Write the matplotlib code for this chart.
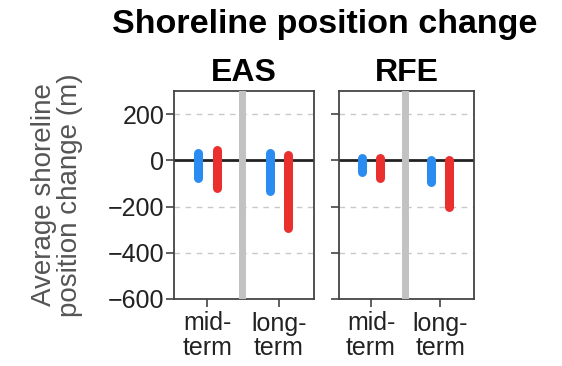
import numpy as np
import matplotlib.pyplot as plt

plt.rcParams['font.family'] = ['Liberation Sans', 'DejaVu Sans']

# data (m)
categories = ['mid-\nterm', 'long-\nterm']
panels = ['EAS', 'RFE']
eas_blue_hi = [33, 33]
eas_blue_lo = [-76, -131]
eas_red_hi = [46, 24]
eas_red_lo = [-118, -291]
rfe_blue_hi = [8, 2]
rfe_blue_lo = [-50, -93]
rfe_red_hi = [12, 1]
rfe_red_lo = [-76, -200]

yticks = [200, 0, -200, -400, -600]
blue = '#2a8cf0'
red = '#ea2f2f'

W, H = 562, 366
fig = plt.figure(figsize=(W / 100, H / 100), dpi=100)

def px_axes(left, top, right, bottom):
    return fig.add_axes([left / W, 1 - bottom / H, (right - left) / W, (bottom - top) / H])

ax_eas = px_axes(174, 91, 314, 299)
ax_rfe = px_axes(339, 91, 474, 299)

data = {
    'EAS': (eas_blue_lo, eas_blue_hi, eas_red_lo, eas_red_hi),
    'RFE': (rfe_blue_lo, rfe_blue_hi, rfe_red_lo, rfe_red_hi),
}
centers = np.array([0.95, 3.0])
off = 0.27

for ax, name in zip([ax_eas, ax_rfe], panels):
    b_lo, b_hi, r_lo, r_hi = data[name]
    ax.set_xlim(0, 4)
    ax.set_ylim(-600, 300)
    for g in [200, -200, -400]:
        ax.axhline(g, color='#c8c8c8', lw=1, ls=(0, (4, 4)), zorder=1)
    ax.axhline(0, color='#222222', lw=2, zorder=2)
    ax.axvline(1.95, color='#c2c2c2', lw=5, zorder=3)
    for i, c in enumerate(centers):
        ax.plot([c - off, c - off], [b_lo[i], b_hi[i]], color=blue, lw=6.5,
                solid_capstyle='round', zorder=4)
        ax.plot([c + off, c + off], [r_lo[i], r_hi[i]], color=red, lw=6.5,
                solid_capstyle='round', zorder=4)
    ax.set_xticks(centers)
    ax.set_xticklabels(categories, fontsize=18, color='#222222', linespacing=1.05)
    ax.set_yticks(yticks)
    ax.tick_params(axis='both', direction='out', length=6, width=1.2, color='#444444')
    ax.tick_params(axis='x', pad=3)
    ax.tick_params(axis='y', pad=1)
    for s in ax.spines.values():
        s.set_color('#444444')
        s.set_linewidth(1.3)
    ax.set_title(name, fontsize=23, fontweight='bold', pad=7)

ax_eas.set_yticklabels([str(v).replace('-', '\u2212') for v in yticks], fontsize=18,
                       color='#222222')
ax_rfe.set_yticklabels([])

fig.text(57 / W, 1 - 195 / H, 'Average shoreline\nposition change (m)', fontsize=20,
         color='#555555', rotation=90, ha='center', va='center',
         multialignment='center', linespacing=1.0)

fig.text(325 / W, 1 - 24 / H, 'Shoreline position change', fontsize=24.5,
         fontweight='bold', ha='center', va='center')

fig.savefig('out.png', dpi=100, facecolor='white')
